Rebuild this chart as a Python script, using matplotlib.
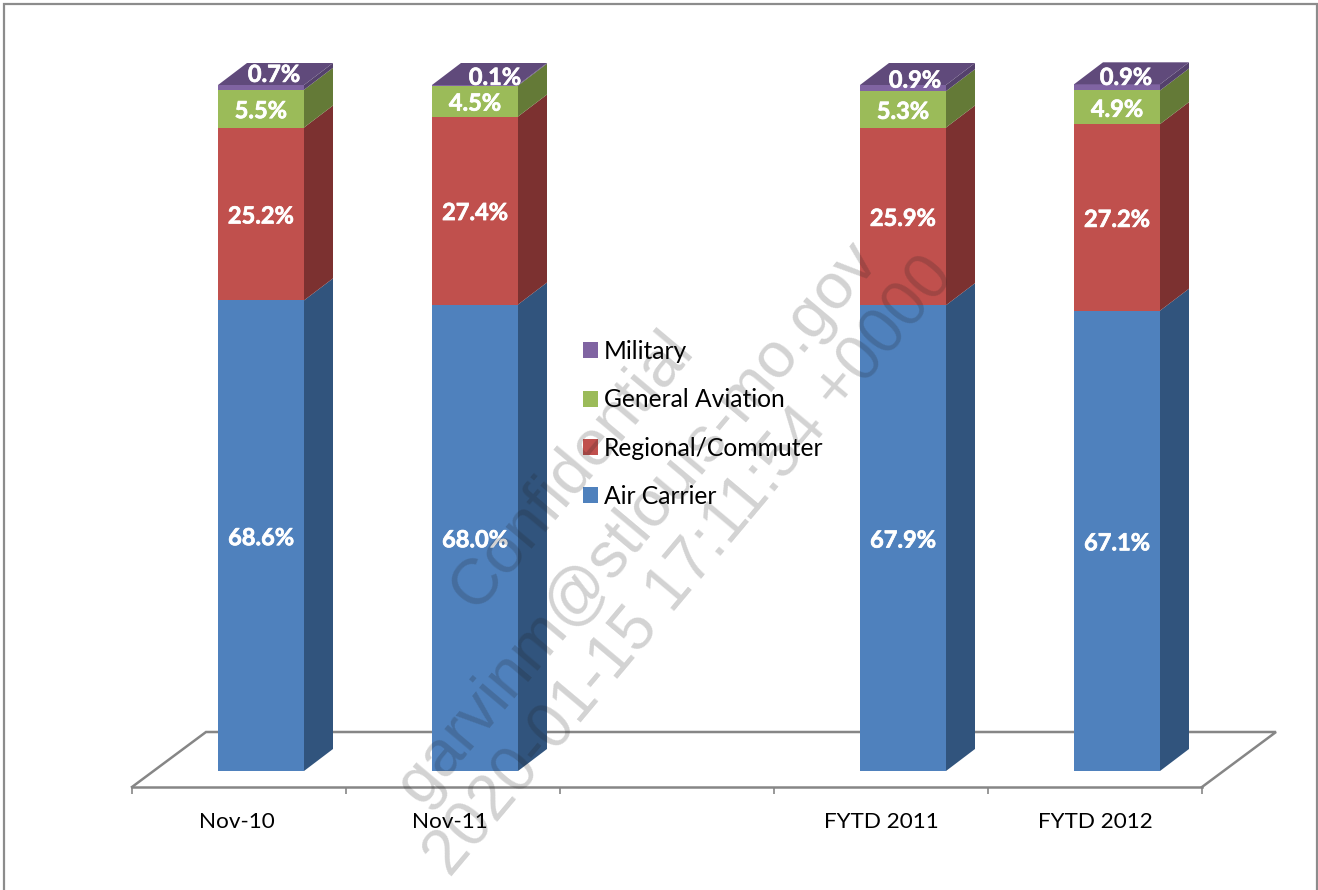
import numpy as np
import matplotlib
matplotlib.use("Agg")
import matplotlib.pyplot as plt
import matplotlib.patheffects as pe
from matplotlib.patches import Patch, Rectangle
from matplotlib.transforms import ScaledTranslation

# ---- data -------------------------------------------------------------
categories = ["Nov-10", "Nov-11", "", "FYTD 2011", "FYTD 2012"]
air_carrier = [68.6, 68.0, 67.9, 67.1]
regional = [25.2, 27.4, 25.9, 27.2]
general_aviation = [5.5, 4.5, 5.3, 4.9]
military = [0.7, 0.1, 0.9, 0.9]
series_names = ["Air Carrier", "Regional/Commuter", "General Aviation", "Military"]
watermark_lines = ["Confidential", "garvinm@stlouis-mo.gov", "2020-01-15 17:11:54 +0000"]

# ---- style ------------------------------------------------------------
W, H = 1318, 890
FONT = "Lato"
front_colors = ["#4F81BD", "#C0504D", "#9BBB59", "#8064A2"]
side_colors = ["#31547D", "#7C3130", "#647A37", "#54416C"]
top_color = "#604A7B"
line_color = "#868686"
PX_PER_SLOT = 214
PX_PER_PCT = 6.86
AX_LEFT, AX_RIGHT, AX_BOTTOM, AX_TOP = 132, 1202, 787, 60
BAR_W_PX = 86
# perspective vectors (pixels): bar depth, floor depth, bar offset on the floor
BAR_DEPTH = (29, 22)
FLOOR_DEPTH = (74, 55)
BAR_SHIFT = (22, 16)
# manual placement of the small top labels, in pixels from the segment centre
military_label_shift = [(13, -15), (20, -10), (12, -10), (9, -12)]
LABEL_DROP_PX = 2
# per-label horizontal nudge of the category names, pixels
tick_label_nudge = [-2, -3, 0, 0, 0]

dpi = 100
fig = plt.figure(figsize=(W / dpi, H / dpi), dpi=dpi, facecolor="white")
ax = fig.add_axes([AX_LEFT / W, (H - AX_BOTTOM) / H, (AX_RIGHT - AX_LEFT) / W, (AX_BOTTOM - AX_TOP) / H])
ax.patch.set_alpha(0)
ax.set_xlim(0, len(categories))
ax.set_ylim(-BAR_SHIFT[1] / PX_PER_PCT, (AX_BOTTOM - BAR_SHIFT[1] - AX_TOP) / PX_PER_PCT)

dx = lambda px: px / PX_PER_SLOT
dy = lambda px: px / PX_PER_PCT

# frame
fig.add_artist(Rectangle((4 / W, -0.1), (1317 - 4) / W, 1.1 - 4 / H, transform=fig.transFigure,
                         fill=False, edgecolor="#8C8C8C", linewidth=1.6))

# floor
y0 = ax.get_ylim()[0]
n = len(categories)
ax.plot([0, dx(FLOOR_DEPTH[0]), n + dx(FLOOR_DEPTH[0]), n],
        [y0, y0 + dy(FLOOR_DEPTH[1]), y0 + dy(FLOOR_DEPTH[1]), y0],
        color=line_color, lw=1.8, clip_on=False, zorder=1, solid_joinstyle="miter")

# axes furniture
for s in ["top", "left", "right"]:
    ax.spines[s].set_visible(False)
ax.spines["bottom"].set_color(line_color)
ax.spines["bottom"].set_linewidth(1.8)
ax.set_yticks([])
ax.set_xticks(np.arange(n + 1))
ax.set_xticklabels([])
ax.set_xticks(np.arange(n) + 0.5, minor=True)
ax.set_xticklabels(categories, minor=True, fontfamily=FONT, fontsize=16.2, color="black")
ax.tick_params(axis="x", which="major", length=5, width=1.2, color=line_color)
ax.tick_params(axis="x", which="minor", length=0, pad=18)
for lab, nudge in zip(ax.get_xticklabels(minor=True), tick_label_nudge):
    lab.set_transform(lab.get_transform() + ScaledTranslation(nudge / dpi, 0, fig.dpi_scale_trans))

# bars
slots = [i for i, c in enumerate(categories) if c]
x = np.array(slots) + 0.5 + dx(BAR_SHIFT[0])
bw = dx(BAR_W_PX)
stack = [air_carrier, regional, general_aviation, military]
bottom = np.zeros(len(x))
ddx, ddy = dx(BAR_DEPTH[0]), dy(BAR_DEPTH[1])
for k, vals in enumerate(stack):
    vals = np.array(vals)
    ax.bar(x, vals, bw, bottom=bottom, color=front_colors[k], linewidth=0, zorder=3)
    for j in range(len(x)):
        r = x[j] + bw / 2
        ax.fill([r, r + ddx, r + ddx, r],
                [bottom[j], bottom[j] + ddy, bottom[j] + vals[j] + ddy, bottom[j] + vals[j]],
                color=side_colors[k], linewidth=0, zorder=3, clip_on=False)
        mid = bottom[j] + vals[j] / 2
        shift = military_label_shift[j] if k == 3 else (0, 0)
        ax.annotate(f"{vals[j]:.1f}%", (x[j], mid),
                    xytext=(shift[0] * 0.72, -(shift[1] + LABEL_DROP_PX) * 0.72), textcoords="offset points",
                    ha="center", va="center", color="white", fontfamily=FONT,
                    fontweight="bold", fontsize=17, zorder=6, annotation_clip=False,
                    path_effects=[pe.withStroke(linewidth=0.5, foreground="white")])
    bottom = bottom + vals
    if k == 3:
        for j in range(len(x)):
            l, r = x[j] - bw / 2, x[j] + bw / 2
            ax.fill([l, r, r + ddx, l + ddx],
                    [bottom[j], bottom[j], bottom[j] + ddy, bottom[j] + ddy],
                    color=top_color, linewidth=0, zorder=3, clip_on=False)

# legend (reversed order, squares)
fs = 17.7
fs_px = fs * dpi / 72
handles = [Patch(facecolor=c, edgecolor="none") for c in front_colors]
leg = ax.legend(handles[::-1], series_names[::-1], loc="upper left",
                bbox_to_anchor=(583 / W, 1 - 340 / H), bbox_transform=fig.transFigure,
                frameon=False, borderpad=0, borderaxespad=0,
                prop={"family": FONT, "size": fs},
                handlelength=15 / fs_px, handleheight=15 / fs_px, handletextpad=6 / fs_px,
                labelspacing=(47.4 - 0.9 * fs_px) / fs_px)
leg.set_zorder(5)

# watermark
wm_kw = dict(family="Liberation Sans", color="#202020", alpha=0.2, rotation=50,
             rotation_mode="anchor", ha="center", va="center", zorder=10)
for line, (px, py), size in zip(watermark_lines, [(572, 470), (637, 523), (690, 567)], [46.5, 46.5, 46]):
    fig.text(px / W, 1 - py / H, line, fontsize=size, **wm_kw)

fig.savefig("out.png", dpi=dpi, facecolor="white")
